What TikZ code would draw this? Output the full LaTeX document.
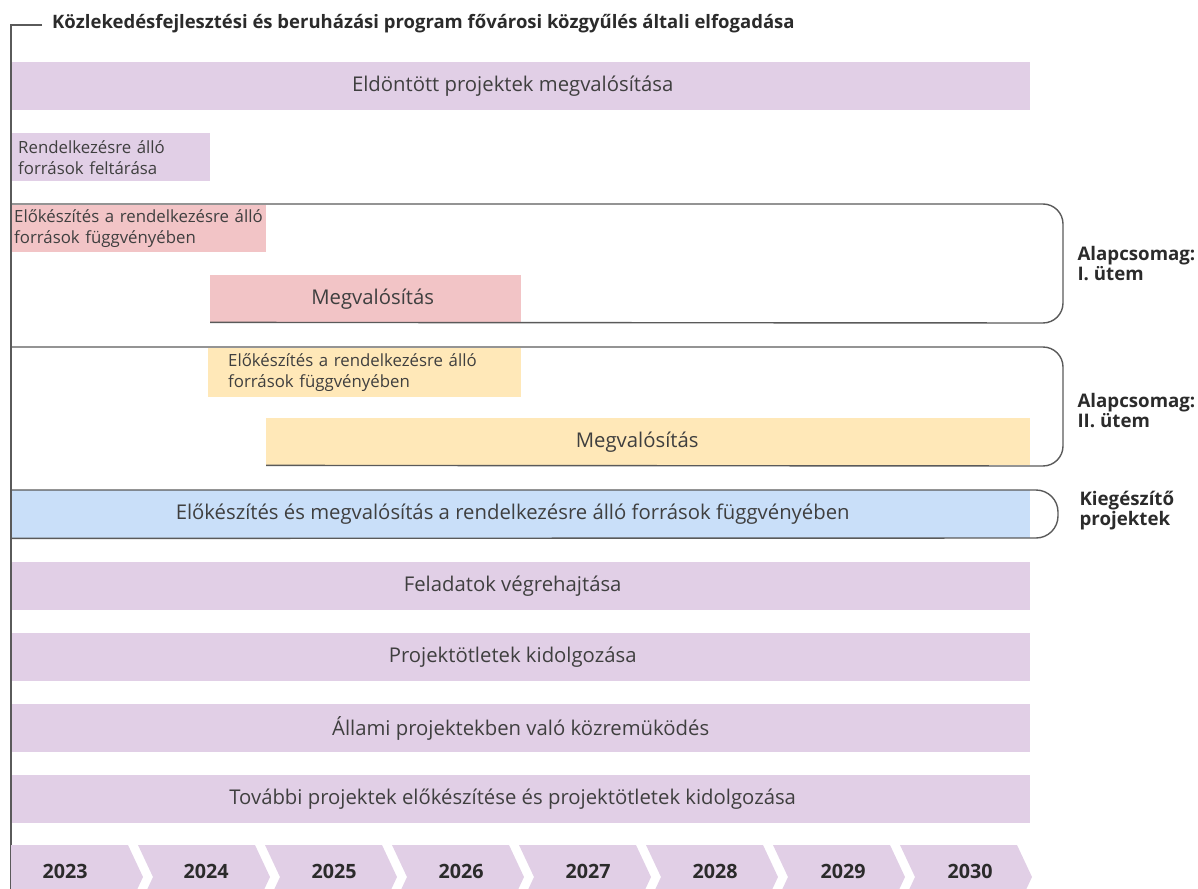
\documentclass[tikz,border=0pt]{standalone}
\usepackage{fontspec}
\setmainfont{Open Sans}
\definecolor{lav}{HTML}{E1CFE6}
\definecolor{pinkb}{HTML}{F2C4C6}
\definecolor{yelb}{HTML}{FFE8B8}
\definecolor{blueb}{HTML}{C9DFF9}
\definecolor{txt}{HTML}{3F3F3F}
\definecolor{dark}{HTML}{2B2B2B}
\definecolor{ln}{HTML}{5A5A5A}
\newcommand{\shl}[1]{\raisebox{-3pt}{#1\hspace*{16pt}}}
\tikzset{
  bar/.style={anchor=north west, inner sep=0pt, minimum height=48pt, text=txt,
    font=\fontsize{20.3}{24}\selectfont},
  smallbar/.style={anchor=north west, inner ysep=0pt, minimum height=48pt, text=txt,
    font=\fontsize{16.8}{21}\selectfont, align=left},
  outline/.style={draw=ln, line width=1.4pt},
  yearlbl/.style={text=dark, font=\fontsize{19.7}{22}\selectfont\bfseries},
  sidelbl/.style={anchor=west, text=dark, align=left, font=\fontsize{18.7}{20}\selectfont\bfseries},
  chev/.style={fill=lav},
}
\begin{document}
\begin{tikzpicture}[x=1pt,y=-1pt]
\useasboundingbox (0,0) rectangle (1198,888);
\begin{scope}
\clip (0,0) rectangle (1198,888);
% header
\coordinate (hstart) at (42,25);
\coordinate (vbottom) at (11,900);
\node[anchor=west, text=dark, font=\fontsize{18.5}{20}\selectfont\bfseries, inner sep=0pt] (head) at (52,24)
  {Közlekedésfejlesztési és beruházási program fővárosi közgyűlés általi elfogadása};

% bars
\node[bar, fill=lav, minimum width=1019pt] (b1) at (11,62) {\shl{Eldöntött projektek megvalósítása}};
\node[smallbar, fill=lav, minimum width=199pt, text width=185pt, inner xsep=7pt] (b2) at (11,133) {Rendelkezésre álló\\források feltárása};
\node[smallbar, fill=pinkb, minimum width=255pt, text width=249pt, inner xsep=3pt, minimum height=47pt] (b3) at (11,205) {Előkészítés a rendelkezésre álló\\források függvényében};
\node[bar, fill=pinkb, minimum width=311pt, minimum height=47pt] (b4) at (210,275) {\raisebox{-8pt}{\hspace*{14pt}Megvalósítás}};
\node[smallbar, fill=yelb, minimum width=313pt, text width=273pt, inner xsep=20pt, minimum height=49pt] (b5) at (208,348) {\raisebox{-2pt}{\parbox{273pt}{Előkészítés a rendelkezésre álló\\források függvényében}}};
\node[bar, fill=yelb, minimum width=764pt, minimum height=47pt] (b6) at (266,418) {\raisebox{-7pt}{Megvalósítás\hspace*{22pt}}};
\node[bar, fill=blueb, minimum width=1019pt] (b7) at (11,490) {\shl{Előkészítés és megvalósítás a rendelkezésre álló források függvényében}};
\node[bar, fill=lav, minimum width=1019pt] (b8) at (11,562) {\shl{Feladatok végrehajtása}};
\node[bar, fill=lav, minimum width=1019pt] (b9) at (11,633) {\shl{Projektötletek kidolgozása}};
\node[bar, fill=lav, minimum width=1019pt] (b10) at (11,704) {\raisebox{-3pt}{Állami projektekben való közremüködés}};
\node[bar, fill=lav, minimum width=1019pt] (b11) at (11,775) {\shl{További projektek előkészítése és projektötletek kidolgozása}};

% brackets
\draw[outline, rounded corners=20pt] (11,204) -- (1063,204) -- (1063,323) -- (b4.south west);
\draw[outline, rounded corners=20pt] (11,347) -- (1063,347) -- (1063,466) -- (b6.south west);
\draw[outline, rounded corners=22pt] (b7.north west) -- (1058,490) -- (1058,538) -- (b7.south west);
% left line
\draw[outline] (hstart) -- (11,25) -- (vbottom);

% side labels
\node[sidelbl] (s1) at (1074,264) {Alapcsomag:\\I. ütem};
\node[sidelbl] (s2) at (1074,411) {Alapcsomag:\\II. ütem};
\node[sidelbl] (s3) at (1076,511) {Kiegészítő\\projektek};

% chevrons
\foreach \i/\yr in {0/2023,1/2024,2/2025,3/2026,4/2027,5/2028,6/2029,7/2030}{
  \pgfmathsetmacro{\L}{11+127*\i}
  \pgfmathsetmacro{\R}{\L+117}
  \ifnum\i=0
    \fill[chev] (\L,845) -- (\R,845) -- (\R+15,877) -- (\R,909) -- (\L,909) -- cycle;
  \else
    \fill[chev] (\L,845) -- (\R,845) -- (\R+15,877) -- (\R,909) -- (\L,909) -- (\L+15,877) -- cycle;
  \fi
}
\node[yearlbl] (y2023) at (65,871) {2023};
\node[yearlbl] (y2024) at (206,871) {2024};
\node[yearlbl] (y2025) at (334,871) {2025};
\node[yearlbl] (y2026) at (461,871) {2026};
\node[yearlbl] (y2027) at (588,871) {2027};
\node[yearlbl] (y2028) at (715,871) {2028};
\node[yearlbl] (y2029) at (843,871) {2029};
\node[yearlbl] (y2030) at (970,871) {2030};
\end{scope}
\end{tikzpicture}
\end{document}
